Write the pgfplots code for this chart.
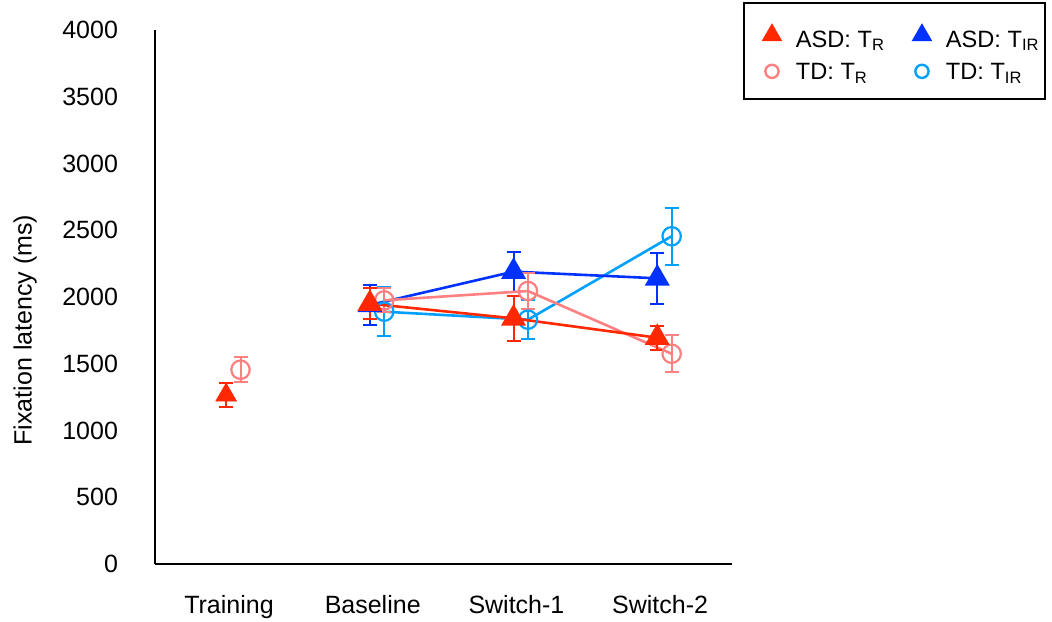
\documentclass[border=0pt]{standalone}
\usepackage{fontspec}
\setmainfont{Liberation Sans}
\usepackage{pgfplots}
\pgfplotsset{compat=1.18}
\definecolor{asdR}{RGB}{255,40,0}
\definecolor{asdIR}{RGB}{0,50,255}
\definecolor{tdR}{RGB}{255,128,128}
\definecolor{tdIR}{RGB}{0,160,255}
\begin{document}
\begin{tikzpicture}
\useasboundingbox (-77.5pt,-28.5pt) rectangle (448.5pt,282pt);
\begin{axis}[
  scale only axis, width=288.5pt, height=267pt,
  xmin=-0.515, xmax=3.5, ymin=0, ymax=4000,
  axis lines=left, axis line style={line width=1pt, -},
  xtick={0,1,2,3}, xticklabels={Training,Baseline,Switch-1,Switch-2},
  ytick={0,500,...,4000},
  major tick length=0pt,
  tick style={draw=none},
  /pgf/number format/assume math mode=true,
  /pgf/number format/1000 sep={},
  ticklabel style={font=\fontsize{12.5}{14}\selectfont},
  yticklabel style={xshift=-15pt},
  xticklabel style={yshift=-12pt},
  ylabel={Fixation latency (ms)},
  ylabel style={at={(axis description cs:-0.225,0.438)}, anchor=center, rotate=0, font=\fontsize{12.5}{14}\selectfont},
  legend columns=2,
  legend style={at={(axis description cs:1.019,1.052)}, anchor=north west,
    draw=black, line width=1pt, inner xsep=0.5pt, inner ysep=8pt,
    font=\fontsize{11.8}{13}\selectfont, row sep=4pt,
    nodes={text depth=0pt}},
  legend cell align=left,
  /tikz/every odd column/.append style={column sep=3pt},
  /tikz/every even column/.append style={column sep=3pt},
  clip=false,
]
% legend images
\pgfplotsset{myimg/.style={legend image code/.code={%
  \path (0pt,0pt) (19.5pt,0pt);
  \draw[mark repeat=2,mark phase=2,##1] plot coordinates {(0pt,0pt)(13pt,0pt)(19.5pt,0pt)};}}}
\addlegendimage{only marks, myimg, mark=triangle*, color=asdR, mark size=5pt}
\addlegendentry{\rule{0pt}{12pt}ASD: T\textsubscript{R}}
\addlegendimage{only marks, myimg, mark=triangle*, color=asdIR, mark size=5pt}
\addlegendentry{\rule{0pt}{12pt}ASD: T\textsubscript{IR}}
\addlegendimage{only marks, myimg, mark=o, color=tdR, mark size=3.3pt, mark options={line width=1.2pt}}
\addlegendentry{TD: T\textsubscript{R}}
\addlegendimage{only marks, myimg, mark=o, color=tdIR, mark size=3.3pt, mark options={line width=1.2pt}}
\addlegendentry{TD: T\textsubscript{IR}}

% TD TIR
\addplot[forget plot, color=tdIR, line width=1.3pt, mark=o, mark size=4.6pt,
  mark options={line width=1.1pt},
  error bars/.cd, y dir=both, y explicit,
  error bar style={line width=1pt}, error mark options={rotate=90, mark size=3.5pt, line width=1pt}]
  table[x=x, y=y, y error=e] {
x y e
1.08 1890 185
2.08 1830 145
3.08 2455 215
};
% ASD TIR
\addplot[forget plot, color=asdIR, line width=1.3pt, mark=triangle*, mark size=5.9pt,
  error bars/.cd, y dir=both, y explicit,
  error bar style={line width=1pt}, error mark options={rotate=90, mark size=3.5pt, line width=1pt}]
  table[x=x, y=y, y error=e] {
x y e
0.98 1940 150
1.98 2190 150
2.98 2140 190
};
% TD TR
\addplot[forget plot, color=tdR, line width=1.3pt, mark=o, mark size=4.6pt,
  mark options={line width=1.1pt},
  error bars/.cd, y dir=both, y explicit,
  error bar style={line width=1pt}, error mark options={rotate=90, mark size=3.5pt, line width=1pt}]
  table[x=x, y=y, y error=e] {
x y e
1.08 1975 90
2.08 2045 135
3.08 1575 140
};
\addplot[forget plot, only marks, color=tdR, mark=o, mark size=4.6pt,
  mark options={line width=1.1pt},
  error bars/.cd, y dir=both, y explicit,
  error bar style={line width=1pt}, error mark options={rotate=90, mark size=3.5pt, line width=1pt}]
  table[x=x, y=y, y error=e] {
x y e
0.08 1455 95
};
% ASD TR
\addplot[forget plot, color=asdR, line width=1.3pt, mark=triangle*, mark size=5.9pt,
  error bars/.cd, y dir=both, y explicit,
  error bar style={line width=1pt}, error mark options={rotate=90, mark size=3.5pt, line width=1pt}]
  table[x=x, y=y, y error=e] {
x y e
0.98 1950 115
1.98 1840 170
2.98 1695 90
};
\addplot[forget plot, only marks, color=asdR, mark=triangle*, mark size=5.9pt,
  error bars/.cd, y dir=both, y explicit,
  error bar style={line width=1pt}, error mark options={rotate=90, mark size=3.5pt, line width=1pt}]
  table[x=x, y=y, y error=e] {
x y e
-0.02 1265 90
};
\end{axis}
\end{tikzpicture}
\end{document}
